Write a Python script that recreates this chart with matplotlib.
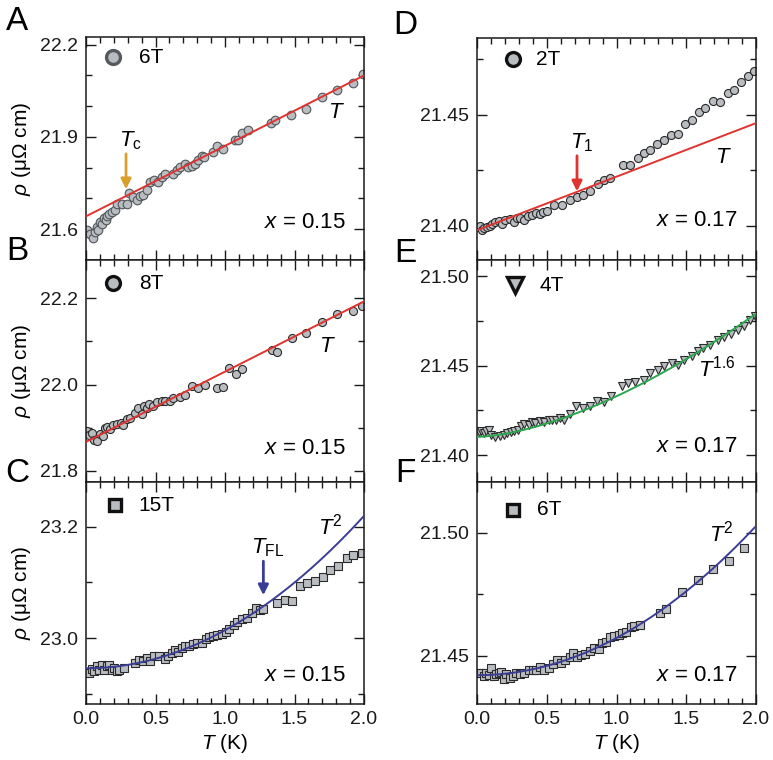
import numpy as np
import matplotlib
matplotlib.use("Agg")
import matplotlib.pyplot as plt
from matplotlib.ticker import MultipleLocator

plt.rcParams['font.family'] = ['Liberation Sans', 'DejaVu Sans']
plt.rcParams['mathtext.fontset'] = 'custom'
plt.rcParams['mathtext.rm'] = 'Liberation Sans'
plt.rcParams['mathtext.it'] = 'Liberation Sans:italic'
plt.rcParams['mathtext.sf'] = 'Liberation Sans'

# ---- data (T in K, rho in micro-ohm cm) ----
# A: x = 0.15, 6T
tA = [0.010, 0.029, 0.048, 0.065, 0.077, 0.089, 0.101, 0.113, 0.129, 0.144, 0.153, 0.168,
      0.185, 0.209, 0.225, 0.257, 0.293, 0.312, 0.336, 0.365, 0.388, 0.408, 0.436, 0.460,
      0.489, 0.520, 0.544, 0.568, 0.628, 0.652, 0.676, 0.712, 0.736, 0.760, 0.784, 0.808,
      0.832, 0.849, 0.916, 0.945, 0.983, 1.072, 1.096, 1.120, 1.168, 1.329, 1.360, 1.472,
      1.583, 1.695, 1.808, 1.923, 1.995]
rA = [21.597, 21.586, 21.573, 21.591, 21.608, 21.599, 21.624, 21.616, 21.635, 21.629, 21.642,
      21.651, 21.655, 21.662, 21.681, 21.681, 21.683, 21.718, 21.705, 21.694, 21.707, 21.710,
      21.729, 21.754, 21.761, 21.754, 21.770, 21.779, 21.779, 21.792, 21.803, 21.813, 21.803,
      21.806, 21.813, 21.824, 21.838, 21.835, 21.851, 21.871, 21.860, 21.891, 21.891, 21.913,
      21.924, 21.945, 21.954, 21.970, 21.992, 22.030, 22.052, 22.075, 22.106]
fitA = (21.642, 0.229)          # rho0, A  (linear)

# B: x = 0.15, 8T
tB = [0.010, 0.024, 0.041, 0.058, 0.077, 0.101, 0.125, 0.137, 0.153, 0.173, 0.197, 0.221,
      0.249, 0.269, 0.293, 0.317, 0.353, 0.376, 0.400, 0.417, 0.436, 0.456, 0.484, 0.508,
      0.544, 0.568, 0.604, 0.628, 0.676, 0.712, 0.760, 0.808, 0.856, 0.940, 0.983, 1.031,
      1.079, 1.120, 1.336, 1.372, 1.480, 1.583, 1.695, 1.808, 1.923, 1.983]
rB = [21.892, 21.882, 21.888, 21.872, 21.868, 21.885, 21.880, 21.899, 21.901, 21.896, 21.906,
      21.909, 21.911, 21.907, 21.919, 21.923, 21.934, 21.946, 21.932, 21.950, 21.946, 21.954,
      21.950, 21.960, 21.963, 21.961, 21.963, 21.969, 21.971, 21.975, 21.996, 21.991, 21.999,
      21.992, 21.994, 22.039, 22.025, 22.035, 22.081, 22.076, 22.107, 22.120, 22.146, 22.163,
      22.170, 22.182]
fitB = (21.867, 0.163)

# C: x = 0.15, 15T
tC = [0.010, 0.024, 0.041, 0.058, 0.077, 0.096, 0.113, 0.129, 0.149, 0.168, 0.185, 0.201,
      0.221, 0.240, 0.273, 0.353, 0.384, 0.408, 0.436, 0.460, 0.489, 0.528, 0.568, 0.592,
      0.616, 0.640, 0.664, 0.688, 0.712, 0.743, 0.772, 0.801, 0.832, 0.863, 0.887, 0.916,
      0.940, 0.976, 1.007, 1.031, 1.065, 1.089, 1.120, 1.156, 1.192, 1.223, 1.252, 1.276,
      1.372, 1.432, 1.480, 1.540, 1.592, 1.647, 1.703, 1.755, 1.815, 1.875, 1.923, 1.983]
rC = [22.9385, 22.9373, 22.9445, 22.9403, 22.9493, 22.9421, 22.9522, 22.9433, 22.9493, 22.9522,
      22.9421, 22.9457, 22.9403, 22.9433, 22.9463, 22.9564, 22.9612, 22.9582, 22.9642, 22.9582,
      22.9672, 22.9672, 22.9624, 22.9672, 22.9731, 22.9791, 22.9761, 22.9821, 22.9863, 22.9851,
      22.9899, 22.9910, 22.9922, 22.9982, 23.0030, 23.0042, 23.0060, 23.0078, 23.0119, 23.0161,
      23.0239, 23.0299, 23.0340, 23.0358, 23.0448, 23.0537, 23.0507, 23.0519, 23.0639, 23.0687,
      23.0675, 23.0937, 23.0985, 23.1033, 23.1092, 23.1224, 23.1295, 23.1433, 23.1492, 23.1522]
fitC = (22.946, 0.0683)         # rho0, A  (T^2)

# D: x = 0.17, 2T
tD = [0.007, 0.019, 0.036, 0.053, 0.072, 0.091, 0.108, 0.131, 0.155, 0.179, 0.203, 0.239,
      0.263, 0.287, 0.311, 0.339, 0.363, 0.394, 0.425, 0.449, 0.473, 0.502, 0.554, 0.609,
      0.664, 0.717, 0.760, 0.808, 0.865, 0.913, 0.956, 1.047, 1.099, 1.152, 1.200, 1.243,
      1.290, 1.343, 1.391, 1.438, 1.493, 1.541, 1.589, 1.637, 1.692, 1.744, 1.797, 1.845,
      1.895, 1.943, 1.988]
rD = [21.3996, 21.4000, 21.3981, 21.3988, 21.3996, 21.4000, 21.4007, 21.4018, 21.4022, 21.4010,
      21.4025, 21.4030, 21.4018, 21.4033, 21.4037, 21.4025, 21.4043, 21.4048, 21.4058, 21.4055,
      21.4063, 21.4066, 21.4093, 21.4093, 21.4118, 21.4130, 21.4138, 21.4157, 21.4186, 21.4208,
      21.4213, 21.4275, 21.4272, 21.4307, 21.4328, 21.4343, 21.4370, 21.4385, 21.4407, 21.4415,
      21.4457, 21.4478, 21.4512, 21.4531, 21.4561, 21.4557, 21.4597, 21.4612, 21.4647, 21.4672,
      21.4696]
fitD = (21.398, 0.0241)

# E: x = 0.17, 4T
tE = [0.012, 0.029, 0.048, 0.067, 0.084, 0.103, 0.131, 0.162, 0.191, 0.215, 0.244, 0.268,
      0.292, 0.315, 0.339, 0.370, 0.394, 0.418, 0.449, 0.483, 0.514, 0.538, 0.569, 0.597,
      0.626, 0.664, 0.712, 0.760, 0.812, 0.860, 0.913, 0.961, 1.039, 1.080, 1.135, 1.195,
      1.243, 1.295, 1.343, 1.398, 1.438, 1.486, 1.541, 1.582, 1.620, 1.673, 1.725, 1.773,
      1.821, 1.869, 1.916, 1.955, 1.995]
rE = [21.4128, 21.4133, 21.4124, 21.4133, 21.4142, 21.4115, 21.4102, 21.4109, 21.4115, 21.4124,
      21.4128, 21.4133, 21.4142, 21.4161, 21.4176, 21.4170, 21.4183, 21.4180, 21.4189, 21.4183,
      21.4198, 21.4195, 21.4198, 21.4208, 21.4198, 21.4232, 21.4273, 21.4264, 21.4277, 21.4301,
      21.4295, 21.4332, 21.4385, 21.4403, 21.4407, 21.4418, 21.4459, 21.4478, 21.4496, 21.4515,
      21.4506, 21.4534, 21.4556, 21.4580, 21.4599, 21.4617, 21.4645, 21.4660, 21.4679, 21.4697,
      21.4720, 21.4753, 21.4776]
fitE = (21.4102, 0.0227, 1.6)   # rho0, A, n

# F: x = 0.17, 6T
tF = [0.012, 0.029, 0.048, 0.067, 0.084, 0.103, 0.120, 0.139, 0.155, 0.172, 0.196, 0.210,
      0.234, 0.258, 0.282, 0.311, 0.339, 0.370, 0.401, 0.425, 0.454, 0.483, 0.514, 0.545,
      0.573, 0.602, 0.633, 0.669, 0.688, 0.717, 0.746, 0.777, 0.808, 0.836, 0.872, 0.896,
      0.927, 0.956, 0.980, 1.016, 1.039, 1.070, 1.104, 1.128, 1.166, 1.314, 1.357, 1.470,
      1.582, 1.692, 1.804, 1.916]
rF = [21.4431, 21.4428, 21.4417, 21.4431, 21.4421, 21.4451, 21.4417, 21.4424, 21.4431, 21.4435,
      21.4404, 21.4425, 21.4408, 21.4417, 21.4428, 21.4425, 21.4431, 21.4442, 21.4444, 21.4442,
      21.4455, 21.4444, 21.4449, 21.4466, 21.4482, 21.4472, 21.4482, 21.4496, 21.4512, 21.4493,
      21.4503, 21.4509, 21.4520, 21.4530, 21.4526, 21.4550, 21.4557, 21.4577, 21.4580, 21.4584,
      21.4591, 21.4598, 21.4618, 21.4621, 21.4625, 21.4672, 21.4692, 21.4760, 21.4808, 21.4851,
      21.4886, 21.4936]
fitF = (21.4421, 0.01515)

# characteristic temperatures marked with arrows
Tc, T1, TFL = 0.288, 0.717, 1.276

red = '#e0332f'
blue = '#3a3d96'
green = '#2aa64e'
gold = '#d9a02e'
face = '#b9bdc1'

fig = plt.figure(figsize=(7.73, 7.60), dpi=100)

W = 773.0
H = 760.0
def box(x0, x1, y0, y1):
    return [x0 / W, 1 - y1 / H, (x1 - x0) / W, (y1 - y0) / H]

axA = fig.add_axes(box(86, 364, 37, 260))
axB = fig.add_axes(box(86, 364, 260, 482))
axC = fig.add_axes(box(86, 364, 482, 704))
axD = fig.add_axes(box(477, 756, 38, 260))
axE = fig.add_axes(box(477, 756, 260, 482))
axF = fig.add_axes(box(477, 756, 482, 704))

def style(ax, ylim, major, minor, fmt, bottom_labels=False):
    ax.set_xlim(0, 2.0)
    ax.set_ylim(*ylim)
    ax.xaxis.set_major_locator(MultipleLocator(0.5))
    ax.xaxis.set_minor_locator(MultipleLocator(0.1))
    ax.yaxis.set_major_locator(MultipleLocator(major))
    ax.yaxis.set_minor_locator(MultipleLocator(minor))
    ax.yaxis.set_major_formatter(plt.FormatStrFormatter(fmt))
    ax.xaxis.set_major_formatter(plt.FormatStrFormatter('%.1f'))
    ax.tick_params(which='both', direction='in', top=True, right=True, labelsize=14,
                   colors='#1a1a1a', width=1.0)
    ax.tick_params(which='major', length=7)
    ax.tick_params(which='minor', length=4)
    ax.tick_params(axis='x', labelbottom=bottom_labels, pad=5)
    ax.tick_params(axis='y', pad=6)
    for s in ax.spines.values():
        s.set_linewidth(1.1)
        s.set_color('#1a1a1a')

style(axA, (21.5, 22.225), 0.3, 0.1, '%.1f')
style(axB, (21.774, 22.289), 0.2, 0.1, '%.1f')
style(axC, (22.882, 23.28), 0.2, 0.1, '%.1f', True)
style(axD, (21.3846, 21.4845), 0.05, 0.025, '%.2f')
style(axE, (21.385, 21.509), 0.05, 0.025, '%.2f')
style(axF, (21.4304, 21.5206), 0.05, 0.025, '%.2f', True)

tt = np.linspace(0, 2.0, 200)

def pts(ax, t, r, marker, edge, ms=5.8):
    ax.plot(t, r, ls='none', marker=marker, ms=ms, mfc=face, mec=edge, mew=0.8, zorder=2)

# A
axA.plot(tt, fitA[0] + fitA[1] * tt, color=red, lw=1.4, zorder=3)
pts(axA, tA, rA, 'o', '#50565b', ms=6.2)
# B
axB.plot(tt, fitB[0] + fitB[1] * tt, color=red, lw=1.4, zorder=3)
pts(axB, tB, rB, 'o', '#2a2a2a')
# C
axC.plot(tt, fitC[0] + fitC[1] * tt ** 2, color=blue, lw=1.4, zorder=3)
pts(axC, tC, rC, 's', '#2a2a2a', ms=5.2)
# D
axD.plot(tt, fitD[0] + fitD[1] * tt, color=red, lw=1.4, zorder=3)
pts(axD, tD, rD, 'o', '#2a2a2a')
# E
axE.plot(tt, fitE[0] + fitE[1] * tt ** fitE[2], color=green, lw=1.4, zorder=3)
pts(axE, tE, rE, 'v', '#2a2a2a', ms=6.2)
# F
axF.plot(tt, fitF[0] + fitF[1] * tt ** 2, color=blue, lw=1.4, zorder=3)
pts(axF, tF, rF, 's', '#2a2a2a', ms=5.2)

# legends (marker + field)
def key(ax, x, y, marker, edge, label, tx, ms=10):
    ax.plot([x], [y], transform=ax.transAxes, marker=marker, ms=ms, mfc=face, mec=edge,
            mew=2.4, ls='none', clip_on=False)
    ax.text(tx, y, label, transform=ax.transAxes, fontsize=15, va='center', ha='left')

key(axA, 0.097, 0.91, 'o', '#555a5e', '6T', 0.19)
key(axB, 0.097, 0.896, 'o', '#111111', '8T', 0.19)
key(axC, 0.104, 0.896, 's', '#111111', '15T', 0.19, ms=9)
key(axD, 0.13, 0.905, 'o', '#111111', '2T', 0.21)
key(axE, 0.137, 0.887, 'v', '#111111', '4T', 0.225, ms=11)
key(axF, 0.13, 0.874, 's', '#111111', '6T', 0.215, ms=9)

# concentration labels
for ax, lab, y in [(axA, '0.15', 0.17), (axB, '0.15', 0.149), (axC, '0.15', 0.13),
                   (axD, '0.17', 0.18), (axE, '0.17', 0.158), (axF, '0.17', 0.13)]:
    ax.text(0.935, y, r'$x$ = ' + lab, transform=ax.transAxes, fontsize=16,
            ha='right', va='center')

# power-law labels
axA.text(0.90, 0.66, r'$T$', transform=axA.transAxes, fontsize=16, ha='center', va='center')
axB.text(0.87, 0.61, r'$T$', transform=axB.transAxes, fontsize=16, ha='center', va='center')
axC.text(0.88, 0.80, r'$T^{2}$', transform=axC.transAxes, fontsize=16, ha='center', va='center')
axD.text(0.885, 0.46, r'$T$', transform=axD.transAxes, fontsize=16, ha='center', va='center')
axE.text(0.86, 0.51, r'$T^{1.6}$', transform=axE.transAxes, fontsize=16, ha='center', va='center')
axF.text(0.875, 0.77, r'$T^{2}$', transform=axF.transAxes, fontsize=16, ha='center', va='center')

# arrows for characteristic temperatures
def mark(ax, t, y0, y1, color, label, ly):
    ax.annotate('', xy=(t, y1), xytext=(t, y0),
                arrowprops=dict(arrowstyle='-|>', color=color, lw=2.0, mutation_scale=15,
                                shrinkA=0, shrinkB=0))
    ax.text(t + 0.03, ly, label, fontsize=16, ha='center', va='bottom')

mark(axA, Tc, 21.845, 21.730, gold, r'$T_{\rm c}$', 21.852)
mark(axD, T1, 21.4315, 21.4155, red, r'$T_{\rm 1}$', 21.4325)
mark(axC, TFL, 23.138, 23.077, blue, r'$T_{\rm FL}$', 23.142)

# axis labels
for ax in (axA, axB, axC):
    ax.set_ylabel(r'$\rho$ (μΩ cm)', fontsize=15)
    ax.yaxis.set_label_coords(-0.19, 0.5)
for ax in (axC, axF):
    ax.set_xlabel(r'$T$ (K)', fontsize=15, labelpad=3)

# panel letters
for lab, x, y in [('A', 17, 21), ('B', 17, 251), ('C', 17, 473),
                  ('D', 405, 25), ('E', 405, 253), ('F', 405, 473)]:
    fig.text(x / W, 1 - y / H, lab, fontsize=24, ha='center', va='center')

fig.savefig('out.png', dpi=100)
